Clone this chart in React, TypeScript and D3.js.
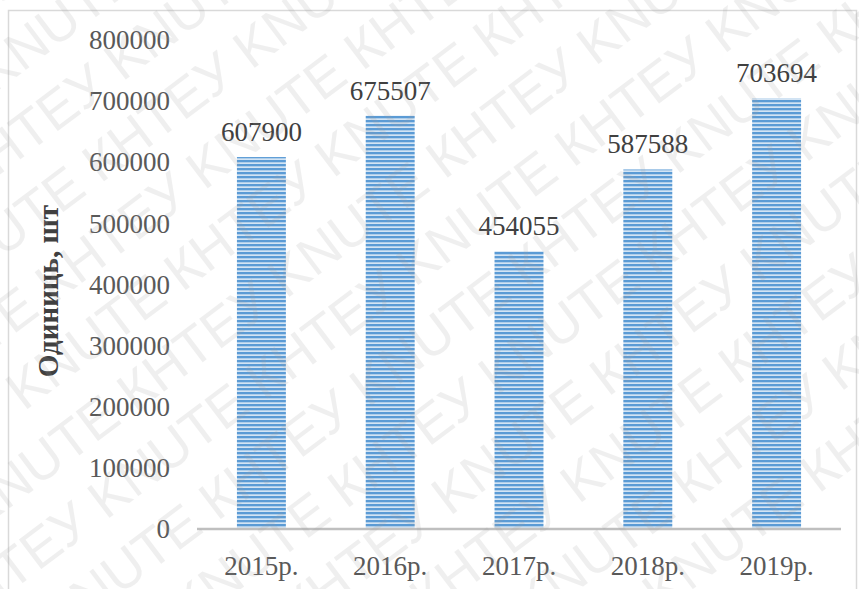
import React from 'react';
import * as d3 from 'd3';

const categories = ['2015р.', '2016р.', '2017р.', '2018р.', '2019р.'];
const values = [607900, 675507, 454055, 587588, 703694];
const yTicks = [0, 100000, 200000, 300000, 400000, 500000, 600000, 700000, 800000];
const yTitle = 'Одиниць, шт';
const watermarkWords = ['КНТЕУ', 'KNUTE'];

const W = 859;
const H = 589;
const margin = { top: 39.5, right: 18, bottom: 60, left: 197 };
const serif = 'Liberation Serif';

export default function App() {
  const x = d3
    .scaleBand<string>()
    .domain(categories)
    .range([margin.left, W - margin.right])
    .paddingInner(0.62)
    .paddingOuter(0.31);

  const y = d3
    .scaleLinear()
    .domain([0, 800000])
    .range([H - margin.bottom, margin.top]);

  // watermark rows
  const rows = d3.range(-6, 12);
  const rowText = d3.range(10).map((i) => watermarkWords[i % 2]).join(' ');

  return (
    <svg
      width={W}
      height={H}
      style={{ position: 'absolute', left: 0, top: 0, background: '#fff' }}
    >
      <defs>
        <pattern id="stripes" width="8" height="4" patternUnits="userSpaceOnUse">
          <rect width="8" height="4" fill="#d3e4f4" />
          <rect width="8" height="2.3" fill="#5b9bd5" />
        </pattern>
        <clipPath id="page">
          <rect x={0} y={0} width={W} height={H} />
        </clipPath>
      </defs>

      {/* outer border */}
      <rect x={8.5} y={10.5} width={848} height={600} fill="none" stroke="#d9d9d9" strokeWidth={1.5} />

      {/* y tick labels */}
      {yTicks.map((t) => (
        <text
          key={t}
          x={170}
          y={y(t)}
          dy="0.35em"
          textAnchor="end"
          fontSize={27}
          fontFamily={serif}
          fill="#595959"
        >
          {t}
        </text>
      ))}

      {/* bars */}
      {values.map((v, i) => (
        <rect
          key={categories[i]}
          x={x(categories[i])}
          y={y(v)}
          width={x.bandwidth()}
          height={y(0) - y(v)}
          fill="url(#stripes)"
        />
      ))}

      {/* x axis line */}
      <line
        x1={margin.left}
        x2={W - margin.right}
        y1={y(0)}
        y2={y(0)}
        stroke="#bfbfbf"
        strokeWidth={2.5}
      />

      {/* data labels */}
      {values.map((v, i) => (
        <text
          key={'l' + i}
          x={(x(categories[i]) as number) + x.bandwidth() / 2}
          y={y(v) - 16}
          textAnchor="middle"
          fontSize={27}
          fontFamily={serif}
          fill="#404040"
        >
          {v}
        </text>
      ))}

      {/* category labels */}
      {categories.map((c) => (
        <text
          key={c}
          x={(x(c) as number) + x.bandwidth() / 2}
          y={575}
          textAnchor="middle"
          fontSize={27}
          fontFamily={serif}
          fill="#595959"
        >
          {c}
        </text>
      ))}

      {/* y axis title */}
      <text
        transform="translate(58,291) rotate(-90)"
        textAnchor="middle"
        fontSize={29}
        fontWeight="bold"
        fontFamily={serif}
        fill="#404040"
      >
        {yTitle}
      </text>

      {/* watermark */}
      <g clipPath="url(#page)">
        <g
          transform="rotate(-37 430 295)"
          fontFamily="Liberation Sans"
          fontSize={54}
          fill="#a0a0a0"
          opacity={0.16}
          style={{ pointerEvents: 'none' }}
        >
          {rows.map((r) => (
            <text key={r} x={-650 + (r % 2) * 110} y={r * 68 - 60}>
              {rowText}
            </text>
          ))}
        </g>
      </g>
    </svg>
  );
}
